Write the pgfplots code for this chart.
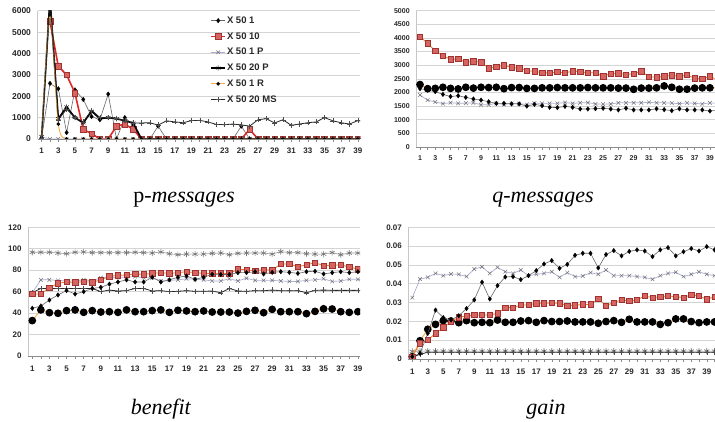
\documentclass[border=0pt]{standalone}
\usepackage{fontspec}
\setmainfont{Liberation Sans}
\newfontfamily\capfont{Liberation Serif}
\usepackage{pgfplots}
\usepackage{pgfplotstable}
\pgfplotsset{compat=1.18}
\definecolor{gridc}{RGB}{212,212,212}
\definecolor{sqfill}{RGB}{214,100,96}
\definecolor{sqdraw}{RGB}{160,50,50}
\definecolor{redline}{RGB}{225,40,40}
\definecolor{orline}{RGB}{240,125,40}
\definecolor{orR}{RGB}{248,170,70}
\definecolor{pline}{RGB}{170,172,210}
\definecolor{labc}{RGB}{40,40,40}

\pgfplotstableread{
x s1 s2 s3 s4 s5 s6
1 50 nan 100 100 0 50
2 2600 5500 0 6600 5800 6600
3 2350 3400 0 950 700 900
4 300 3000 0 1500 0 1400
5 2300 2150 0 1000 0 1000
6 1850 450 0 750 0 800
7 1050 250 0 1300 0 1350
8 900 0 0 950 0 1000
9 2100 0 0 1000 0 1000
10 0 600 0 950 0 950
11 1000 700 0 850 0 850
12 650 450 0 750 0 750
13 0 0 0 0 0 750
14 0 0 0 0 0 760
15 600 0 0 0 0 650
16 0 0 0 0 0 850
17 0 0 0 0 0 800
18 0 0 0 0 0 760
19 0 0 0 0 0 860
20 0 0 0 0 0 870
21 0 0 0 0 0 800
22 0 0 0 0 0 680
23 0 0 0 0 0 670
24 0 0 0 0 0 700
25 600 0 0 0 0 660
26 0 450 0 0 0 600
27 0 0 0 0 0 900
28 0 0 0 0 0 950
29 0 0 0 0 0 750
30 0 0 0 0 0 900
31 0 0 0 0 0 640
32 0 0 0 0 0 700
33 0 0 0 0 0 760
34 0 0 0 0 0 800
35 0 0 0 0 0 1000
36 0 0 0 0 0 850
37 0 0 0 0 0 760
38 0 0 0 0 0 700
39 0 0 0 0 0 860
40 0 0 0 0 0 800
}\pmsg

\pgfplotstableread{
x s1 s2 s3 s5
1 2140 4050 1905 2290
2 2090 3800 1720 2140
3 2030 3520 1650 2150
4 1930 3350 1590 2190
5 1850 3215 1625 2150
6 1880 3230 1600 2130
7 1820 3105 1610 2190
8 1760 3150 1620 2160
9 1720 3105 1550 2190
10 1660 2885 1550 2180
11 1600 2945 1600 2190
12 1600 2995 1560 2140
13 1580 2920 1600 2180
14 1580 2885 1590 2180
15 1500 2800 1560 2150
16 1565 2775 1610 2150
17 1515 2725 1600 2170
18 1455 2715 1600 2170
19 1445 2750 1600 2180
20 1490 2715 1630 2170
21 1455 2785 1600 2170
22 1395 2765 1620 2170
23 1395 2715 1630 2180
24 1405 2725 1580 2170
25 1420 2590 1570 2170
26 1395 2690 1580 2170
27 1360 2700 1620 2160
28 1420 2655 1620 2160
29 1360 2690 1620 2115
30 1360 2775 1620 2160
31 1360 2580 1640 2160
32 1400 2555 1620 2170
33 1370 2590 1620 2240
34 1335 2630 1610 2190
35 1400 2590 1590 2120
36 1360 2640 1620 2120
37 1360 2520 1600 2160
38 1360 2495 1580 2170
39 1320 2590 1620 2170
40 1350 2460 1600 2170
}\qmsg

\pgfplotstableread{
x s1 s2 s3 s4 s5 s6
1 44.5 57.8 59 96.7 33 59
2 46.6 57.8 71 96.7 43 63
3 52.2 63.7 71 96.7 40.4 63
4 56.9 67.8 70.5 96 39.8 63
5 61 69 70 95.4 42.3 63
6 57.8 68.7 70 96.7 43 63
7 60 69.3 71 97 40.7 63
8 63 68.7 70 96.4 42.3 63
9 64 71 73 96.4 41 60
10 67 74.3 73 96.4 41.3 61.5
11 69 75.2 73.5 96.4 40.7 60.6
12 71 75.5 73.5 96.4 43 60.9
13 69 76.5 74 96.7 41.3 63
14 69 76.2 73 96.4 41.3 63
15 73.4 77 73 96 42.3 60.6
16 69 77.7 70 97 43 60.9
17 71 77 70.5 95.4 40.7 60
18 73.4 77.7 71 94.5 42.6 60.3
19 74.6 78.6 72 95 42 60.9
20 71.5 77.7 71.5 95 41.3 60.3
21 73.4 77 71 95 42 60.3
22 76.2 77 70 95.7 41 60.6
23 76 77 70 96 41 59
24 76 77 72 94.5 41 63
25 77.7 80.8 70 95.7 40 60.6
26 77.7 80.5 72.5 96 41.6 60.3
27 78.6 79.3 70.5 96 42.6 60.9
28 76.5 80.5 70.5 96 40.4 60.9
29 78 80 70.5 95 43.5 61.5
30 78.6 85.8 70 97.3 41.3 60.9
31 78 85.8 69.5 96.4 41.3 60.9
32 77 83.3 69.5 96.4 41.3 60.9
33 78.6 84.9 70.5 95.4 39.5 59
34 79 87 71 95 41.6 61.2
35 76.5 84.2 72 95 44 61.5
36 77.7 84.5 69.5 96.4 43.8 61.2
37 78.6 85 70 94.5 41.3 61.2
38 77.7 83 71.5 96 40.7 61.2
39 78.6 81 71.5 96 41.3 61.2
40 78.6 80 70.5 95.7 41.9 60.9
}\bene

\pgfplotstableread{
x s1 s2 s3 s4 s5 s6
1 0.0012 0.0012 0.0326 0.0040 0.0012 0.0010
2 0.0030 0.0083 0.0425 0.0042 0.0097 0.0025
3 0.0136 0.0101 0.0434 0.0042 0.0158 0.0036
4 0.0260 0.0136 0.0455 0.0042 0.0184 0.0036
5 0.0220 0.0168 0.0443 0.0042 0.0204 0.0036
6 0.0207 0.0198 0.0452 0.0042 0.0202 0.0036
7 0.0230 0.0222 0.0450 0.0042 0.0193 0.0036
8 0.0268 0.0229 0.0438 0.0042 0.0204 0.0036
9 0.0314 0.0234 0.0478 0.0042 0.0193 0.0036
10 0.0408 0.0234 0.0490 0.0042 0.0195 0.0036
11 0.0319 0.0234 0.0455 0.0042 0.0193 0.0036
12 0.0390 0.0243 0.0487 0.0042 0.0207 0.0036
13 0.0436 0.0273 0.0464 0.0042 0.0195 0.0036
14 0.0438 0.0273 0.0455 0.0042 0.0195 0.0036
15 0.0422 0.0287 0.0473 0.0042 0.0202 0.0036
16 0.0443 0.0287 0.0443 0.0042 0.0204 0.0036
17 0.0470 0.0296 0.0450 0.0042 0.0195 0.0036
18 0.0505 0.0296 0.0455 0.0042 0.0204 0.0036
19 0.0523 0.0298 0.0464 0.0042 0.0199 0.0036
20 0.0482 0.0296 0.0434 0.0042 0.0199 0.0036
21 0.0503 0.0284 0.0459 0.0042 0.0202 0.0036
22 0.0551 0.0286 0.0438 0.0042 0.0197 0.0036
23 0.0562 0.0290 0.0441 0.0042 0.0197 0.0036
24 0.0562 0.0290 0.0459 0.0042 0.0197 0.0036
25 0.0484 0.0319 0.0450 0.0042 0.0190 0.0036
26 0.0555 0.0284 0.0473 0.0042 0.0199 0.0036
27 0.0576 0.0300 0.0443 0.0042 0.0204 0.0036
28 0.0548 0.0314 0.0443 0.0042 0.0195 0.0036
29 0.0572 0.0308 0.0443 0.0042 0.0211 0.0036
30 0.0580 0.0314 0.0438 0.0042 0.0197 0.0036
31 0.0574 0.0335 0.0434 0.0042 0.0197 0.0036
32 0.0544 0.0326 0.0424 0.0042 0.0197 0.0036
33 0.0580 0.0331 0.0443 0.0042 0.0184 0.0036
34 0.0592 0.0335 0.0455 0.0042 0.0193 0.0036
35 0.0548 0.0331 0.0461 0.0042 0.0213 0.0036
36 0.0570 0.0326 0.0438 0.0042 0.0213 0.0036
37 0.0587 0.0342 0.0450 0.0042 0.0199 0.0036
38 0.0574 0.0335 0.0464 0.0042 0.0193 0.0036
39 0.0597 0.0317 0.0450 0.0042 0.0197 0.0036
40 0.0580 0.0331 0.0443 0.0042 0.0197 0.0036
}\gain

\pgfplotsset{
  excel/.style={
    scale only axis,
    axis x line*=bottom, axis y line*=left,
    x axis line style={draw=black!45, line width=0.6pt, -},
    y axis line style={draw=black!22, line width=0.6pt, -},
    ymajorgrids, major grid style={draw=gridc, line width=0.6pt},
    xtick={1,3,...,39}, minor xtick={2,4,...,40},
    tick align=outside, major tick length=3pt, minor tick length=3pt,
    xtick style={draw=black!45, line width=0.5pt},
    minor tick style={draw=black!45, line width=0.5pt},
    ytick style={draw=none},
    scaled y ticks=false,
    /pgf/number format/assume math mode=true,
    /pgf/number format/fixed,
    /pgf/number format/precision=3,
    /pgf/number format/1000 sep={},
    ticklabel style={text=labc},
    clip marker paths=true,
  },
  s1/.style={draw=black!60, line width=0.6pt, mark=diamond*, mark size=2.3pt,
    mark options={draw=black, fill=black, solid, line width=0.3pt}},
  s2/.style={draw=redline, line width=1.6pt, mark=square*, mark size=2.8pt,
    mark options={fill=sqfill, draw=sqdraw, line width=0.5pt}},
  s2b/.style={draw=orline, line width=0.8pt, mark=square*, mark size=2.7pt,
    mark options={fill=sqfill, draw=sqdraw, line width=0.5pt}},
  s3/.style={draw=pline, line width=0.7pt, mark=x, mark size=2.6pt,
    mark options={draw=black!55, line width=0.5pt}},
  s4/.style={draw=black, line width=1.6pt, mark=asterisk, mark size=2.6pt,
    mark options={draw=black, line width=0.5pt}},
  s4b/.style={draw=black!40, line width=0.6pt, mark=asterisk, mark size=3pt,
    mark options={draw=black!55, line width=0.6pt}},
  s5/.style={draw=orR, line width=0.9pt, mark=*, mark size=1.3pt,
    mark options={fill=black, draw=black}},
  s5b/.style={draw=orR, line width=0.9pt, mark=*, mark size=3.4pt,
    mark options={fill=black, draw=black}},
  s6/.style={draw=black!85, line width=0.8pt, mark=+, mark size=2.6pt,
    mark options={draw=black!70, line width=0.4pt}},
}

\begin{document}
\begin{tikzpicture}
\path[use as bounding box] (0pt,0pt) rectangle (715pt,422pt);

% p-messages
\begin{axis}[excel, at={(37.5pt,283pt)}, anchor=south west,
  width=322.8pt, height=128.3pt, xmin=0.5, xmax=39.3, ymin=0, ymax=6000,
  ytick={0,1000,...,6000},
  yticklabel style={font=\bfseries\fontsize{8.5}{10}\selectfont},
  xticklabel style={font=\bfseries\fontsize{8}{9}\selectfont, yshift=-2.5pt},
  legend image code/.code={\draw[mark repeat=2,mark phase=2,#1] plot coordinates {(0pt,0pt) (7pt,0pt) (14pt,0pt)};},
  legend style={at={(axis description cs:0.535,0.965)}, anchor=north west, draw=none, fill=none,
    inner sep=0pt, row sep=5.3pt, font=\bfseries\fontsize{9.5}{10}\selectfont, text=labc,
    nodes={inner sep=1pt, text height=7pt, text depth=1.5pt}},
  legend cell align=left]
\addplot[s1] table[x=x,y=s1] {\pmsg};
\addlegendentry{X 50 1}
\addplot[s2] table[x=x,y=s2] {\pmsg};
\addlegendentry{X 50 10}
\addplot[s3] table[x=x,y=s3] {\pmsg};
\addlegendentry{X 50 1 P}
\addplot[s4] table[x=x,y=s4] {\pmsg};
\addlegendentry{X 50 20 P}
\addplot[s5, smooth] table[x=x,y=s5] {\pmsg};
\addlegendentry{X 50 1 R}
\addplot[s6] table[x=x,y=s6] {\pmsg};
\addlegendentry{X 50 20 MS}
\end{axis}

% q-messages
\begin{axis}[excel, at={(416.2pt,275pt)}, anchor=south west,
  width=298.3pt, height=136.3pt, xmin=0.5, xmax=39.6, ymin=0, ymax=5000,
  ytick={0,500,...,5000},
  yticklabel style={font=\bfseries\fontsize{7}{8}\selectfont},
  xticklabel style={font=\bfseries\fontsize{7}{8}\selectfont, yshift=-2pt}]
\addplot[s2b] table[x=x,y=s2] {\qmsg};
\addplot[s3] table[x=x,y=s3] {\qmsg};
\addplot[s1] table[x=x,y=s1] {\qmsg};
\addplot[s5b] table[x=x,y=s5] {\qmsg};
\end{axis}

% benefit
\begin{axis}[excel, at={(28pt,66pt)}, anchor=south west,
  width=332pt, height=128.7pt, xmin=0.5, xmax=39.25, ymin=0, ymax=120,
  ytick={0,20,...,120},
  yticklabel style={font=\bfseries\fontsize{8}{9}\selectfont},
  xticklabel style={font=\bfseries\fontsize{8}{9}\selectfont, yshift=-3.5pt}]
\addplot[s4b] table[x=x,y=s4] {\bene};
\addplot[s3] table[x=x,y=s3] {\bene};
\addplot[s6] table[x=x,y=s6] {\bene};
\addplot[s5b] table[x=x,y=s5] {\bene};
\addplot[s2b] table[x=x,y=s2] {\bene};
\addplot[s1] table[x=x,y=s1] {\bene};
\end{axis}

% gain
\begin{axis}[excel, at={(408.4pt,63pt)}, anchor=south west,
  width=306.5pt, height=131.7pt, xmin=0.5, xmax=40.05, ymin=0, ymax=0.07,
  ytick={0,0.01,0.02,0.03,0.04,0.05,0.06,0.07},
  yticklabel style={font=\bfseries\fontsize{8}{9}\selectfont},
  xticklabel style={font=\bfseries\fontsize{8}{9}\selectfont, yshift=-3.5pt}]
\addplot[s4b] table[x=x,y=s4] {\gain};
\addplot[s6] table[x=x,y=s6] {\gain};
\addplot[s3] table[x=x,y=s3] {\gain};
\addplot[s5b] table[x=x,y=s5] {\gain};
\addplot[s2b] table[x=x,y=s2] {\gain};
\addplot[s1] table[x=x,y=s1] {\gain};
\end{axis}

\node[anchor=base, font=\capfont\fontsize{22}{26}\selectfont] at (184pt,219pt) {p-\textit{messages}};
\node[anchor=base, font=\capfont\fontsize{22}{26}\selectfont] at (543pt,219pt) {\textit{q-messages}};
\node[anchor=base, font=\capfont\fontsize{22}{26}\selectfont] at (161pt,7pt) {\textit{benefit}};
\node[anchor=base, font=\capfont\fontsize{22}{26}\selectfont] at (546pt,7pt) {\textit{gain}};
\end{tikzpicture}
\end{document}
